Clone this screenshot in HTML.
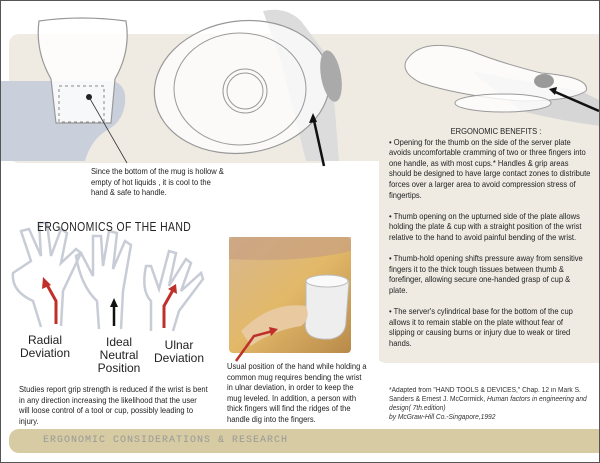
<!DOCTYPE html>
<html><head><style>
body{margin:0;width:600px;height:463px;overflow:hidden;background:#fff;font-family:"Liberation Sans Narrow","Liberation Sans",sans-serif;}
#f{position:absolute;left:0;top:0;width:598px;height:461px;border:1px solid #555;overflow:hidden;}
.t{position:absolute;font-size:8.6px;line-height:10.6px;color:#222;transform:scaleX(.88);transform-origin:0 0;white-space:nowrap;}
</style></head><body><div id="f">
<div style="position:absolute;left:8px;top:33px;width:600px;height:129px;background:#efebe3;border-radius:10px 0 0 10px"></div>
<div style="position:absolute;left:375px;top:33px;width:230px;height:329px;background:#efebe3;border-radius:0 0 0 10px"></div>
<div style="position:absolute;left:318px;top:160px;width:60px;height:210px;background:#fff;border-radius:8px 0 0 0"></div>
<svg style="position:absolute;left:0;top:0" width="600" height="463">
<!-- mug -->
<path d="M0 80 H112 Q126 84 124 102 Q122 120 108 128 Q90 138 84 160 H0Z" fill="#c9d0dc"/>
<path d="M38 20 Q80 14 125 20 Q130 50 114 78 L110 122 H55 L50 78 Q34 50 38 20Z" fill="#fff" stroke="#999" stroke-width="1.2" fill-opacity=".85"/>
<rect x="58" y="85" width="45" height="36" fill="none" stroke="#888" stroke-dasharray="3,3"/>
<circle cx="88" cy="96" r="3" fill="#222"/><line x1="88" y1="96" x2="126" y2="162" stroke="#333" stroke-width=".8"/>
<!-- plate -->
<path d="M262 10 Q285 5 300 20 L330 60 L338 160 H305 L280 60Z" fill="#dcdcdc"/>
<ellipse cx="241" cy="86" rx="88" ry="66" fill="#fff" fill-opacity=".75" stroke="#999" stroke-width="1.2" transform="rotate(-8 241 86)"/>
<ellipse cx="239" cy="88" rx="66" ry="56" fill="none" stroke="#999"/>
<circle cx="244" cy="90" r="22" fill="none" stroke="#999"/><circle cx="244" cy="90" r="18" fill="none" stroke="#999"/>
<ellipse cx="330" cy="75" rx="10" ry="26" fill="#aaa" transform="rotate(-10 330 75)"/>
<line x1="323" y1="165" x2="312" y2="115" stroke="#111" stroke-width="2.5"/><path d="M312 112 L308 122 L316 121Z" fill="#111"/>
<!-- side plate -->
<path d="M470 70 Q520 80 580 90 L600 100 V125 Q560 120 520 110Z" fill="#d6d6d6"/>
<path d="M405 60 Q420 35 470 50 Q500 62 540 72 Q590 76 585 90 Q570 100 520 100 Q460 95 420 82 Q400 72 405 60Z" fill="#fff" fill-opacity=".8" stroke="#999"/>
<ellipse cx="502" cy="102" rx="48" ry="9" fill="#fff" fill-opacity=".8" stroke="#999"/>
<ellipse cx="543" cy="80" rx="10" ry="7" fill="#999"/>
<line x1="598" y1="110" x2="552" y2="90" stroke="#111" stroke-width="2.5"/><path d="M548 88 L556 86 L554 94Z" fill="#111"/>
<!-- hands -->
<g fill="none" stroke="#c8ccd6" stroke-width="2.5">
<path d="M40 326 L32 300 Q10 290 12 272 L30 260 L20 230 L28 228 L40 255 L38 222 L46 222 L50 255 L60 228 L66 232 L60 262 L75 248 L80 252 L62 290 L60 325"/>
<path d="M98 328 L96 300 Q80 285 75 255 L80 252 L92 275 L92 235 L100 235 L102 265 L108 230 L116 232 L112 268 L124 240 L130 244 L122 290 L120 328"/>
<path d="M150 330 L150 300 Q140 290 145 265 L150 265 L158 288 L168 250 L175 252 L168 285 L185 258 L190 262 L180 290 L200 272 L202 278 L178 310 L172 330"/>
</g>
<path d="M55 323 V300 L45 282" stroke="#c0302a" stroke-width="3" fill="none"/><path d="M42 276 L41 288 L50 284Z" fill="#c0302a"/>
<path d="M113 325 V303" stroke="#111" stroke-width="2.5"/><path d="M113 297 L109 306 H117Z" fill="#111"/>
<path d="M163 327 V305 L172 289" stroke="#c0302a" stroke-width="3" fill="none"/><path d="M175 283 L167 288 L176 293Z" fill="#c0302a"/>
<!-- photo -->
<defs><linearGradient id="g" x1="0" y1="0" x2="1" y2="1"><stop offset="0" stop-color="#d8b890"/><stop offset=".5" stop-color="#e2b868"/><stop offset="1" stop-color="#b88a4a"/></linearGradient></defs>
<rect x="228" y="236" width="122" height="116" rx="4" fill="url(#g)"/>
<path d="M228 236 H350 V250 Q300 262 228 258Z" fill="#c9a080" opacity=".7"/>
<path d="M305 318 Q300 340 330 338 Q345 335 345 320 L348 280 Q325 272 305 280Z" fill="#eee" stroke="#bbb"/>
<ellipse cx="326" cy="280" rx="21" ry="6" fill="#fafafa" stroke="#bbb"/>
<path d="M240 330 Q270 300 305 305 Q310 318 300 325 Q270 330 250 345Z" fill="#e8c9a0"/>
<path d="M235 360 L253 335 L272 330" stroke="#c0302a" stroke-width="2.5" fill="none"/><path d="M277 328 L268 326 L270 335Z" fill="#c0302a"/>
<rect x="8" y="428" width="600" height="24" rx="10" fill="#d6cba2"/>
</svg>
<div class="t" style="left:90px;top:165px">Since the bottom of the mug is hollow &amp;<br>empty of hot liquids , it is cool to the<br>hand &amp; safe to handle.</div>
<div style="position:absolute;left:36px;top:218px;font-size:13px;color:#222;transform:scaleX(.8);transform-origin:0 0;letter-spacing:.5px;white-space:nowrap">ERGONOMICS OF THE HAND</div>
<div style="position:absolute;left:14px;top:333px;width:60px;text-align:center;font:12px/13px 'Liberation Sans',sans-serif;color:#222">Radial<br>Deviation</div>
<div style="position:absolute;left:88px;top:335px;width:60px;text-align:center;font:12px/13px 'Liberation Sans',sans-serif;color:#222">Ideal<br>Neutral<br>Position</div>
<div style="position:absolute;left:148px;top:338px;width:60px;text-align:center;font:12px/13px 'Liberation Sans',sans-serif;color:#222">Ulnar<br>Deviation</div>
<div class="t" style="left:18px;top:383px">Studies report grip strength is reduced if the wrist is bent<br>in any direction increasing the likelihood that the user<br>will loose control of a tool or cup, possibly leading to<br>injury.</div>
<div class="t" style="left:226px;top:360px">Usual position of the hand while holding a<br>common mug requires bending the wrist<br>in ulnar deviation, in order to keep the<br>mug leveled. In addition, a person with<br>thick fingers will find the ridges of the<br>handle dig into the fingers.</div>
<div class="t" style="left:388px;top:125px"><div style="padding-left:70px">ERGONOMIC BENEFITS :</div>• Opening for the thumb on the side of the server plate<br>avoids uncomfortable cramming of two or three fingers into<br>one handle, as with most cups.* Handles &amp; grip areas<br>should be designed to have large contact zones to distribute<br>forces over a larger area to avoid compression stress of<br>fingertips.<br><br>• Thumb opening on the upturned side of the plate allows<br>holding the plate &amp; cup with a straight position of the wrist<br>relative to the hand to avoid painful bending of the wrist.<br><br>• Thumb-hold opening shifts pressure away from sensitive<br>fingers it to the thick tough tissues between thumb &amp;<br>forefinger, allowing secure one-handed grasp of cup &amp;<br>plate.<br><br>• The server's cylindrical base for the bottom of the cup<br>allows it to remain stable on the plate without fear of<br>slipping or causing burns or injury due to weak or tired<br>hands.</div>
<div style="position:absolute;left:388px;top:385px;font:7px/9px 'Liberation Sans',sans-serif;color:#333;white-space:nowrap;transform:scaleX(.95);transform-origin:0 0">*Adapted from "HAND TOOLS &amp; DEVICES," Chap. 12 in Mark S.<br>Sanders &amp; Ernest J. McCormick, <i>Human factors in engineering and<br>design( 7th.edition)<br>by McGraw-Hill Co.-Singapore,1992</i></div>
<div style="position:absolute;left:42px;top:434px;font:10px 'Liberation Mono',monospace;color:#999;letter-spacing:1px;white-space:nowrap">ERGONOMIC CONSIDERATIONS &amp; RESEARCH</div>
</div></body></html>
